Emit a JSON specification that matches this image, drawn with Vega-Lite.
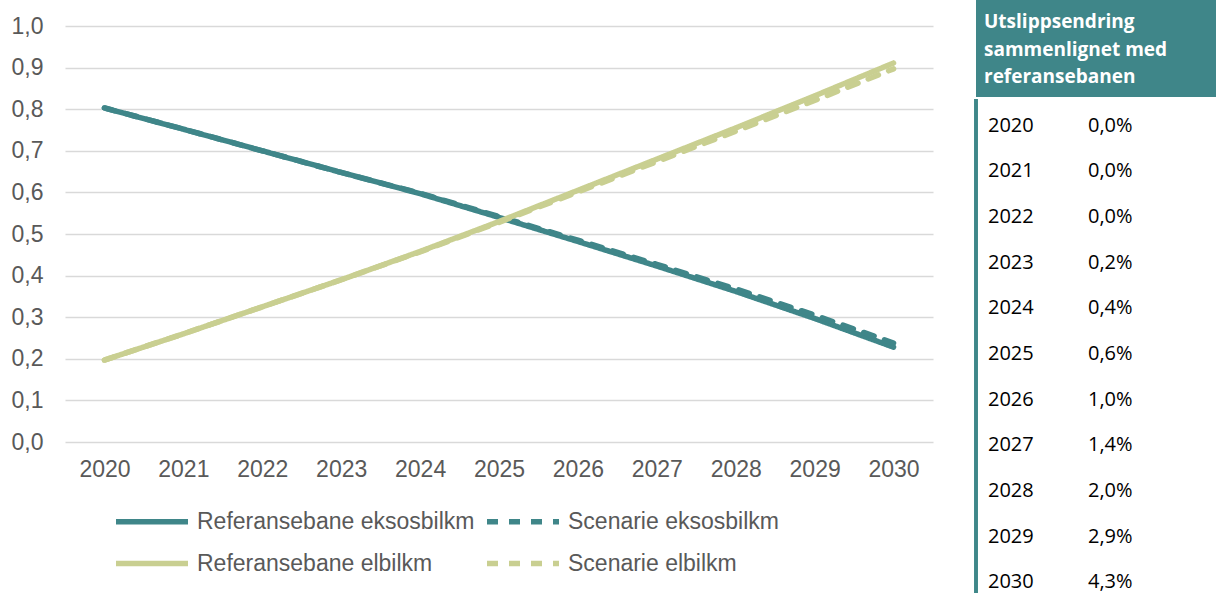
{
  "$schema": "https://vega.github.io/schema/vega-lite/v6.json",
  "padding": {"left": 11, "top": 0, "right": 0, "bottom": 0},
  "spacing": 41,
  "config": {"view": {"stroke": null}, "font": "Liberation Sans"},
  "datasets": {
    "linjer": [
      {"aar": "2020", "serie": "Referansebane eksosbilkm", "verdi": 0.803},
      {"aar": "2021", "serie": "Referansebane eksosbilkm", "verdi": 0.752},
      {"aar": "2022", "serie": "Referansebane eksosbilkm", "verdi": 0.700},
      {"aar": "2023", "serie": "Referansebane eksosbilkm", "verdi": 0.648},
      {"aar": "2024", "serie": "Referansebane eksosbilkm", "verdi": 0.597},
      {"aar": "2025", "serie": "Referansebane eksosbilkm", "verdi": 0.540},
      {"aar": "2026", "serie": "Referansebane eksosbilkm", "verdi": 0.482},
      {"aar": "2027", "serie": "Referansebane eksosbilkm", "verdi": 0.423},
      {"aar": "2028", "serie": "Referansebane eksosbilkm", "verdi": 0.362},
      {"aar": "2029", "serie": "Referansebane eksosbilkm", "verdi": 0.297},
      {"aar": "2030", "serie": "Referansebane eksosbilkm", "verdi": 0.228},
      {"aar": "2020", "serie": "Scenarie eksosbilkm", "verdi": 0.803},
      {"aar": "2021", "serie": "Scenarie eksosbilkm", "verdi": 0.752},
      {"aar": "2022", "serie": "Scenarie eksosbilkm", "verdi": 0.700},
      {"aar": "2023", "serie": "Scenarie eksosbilkm", "verdi": 0.648},
      {"aar": "2024", "serie": "Scenarie eksosbilkm", "verdi": 0.598},
      {"aar": "2025", "serie": "Scenarie eksosbilkm", "verdi": 0.542},
      {"aar": "2026", "serie": "Scenarie eksosbilkm", "verdi": 0.485},
      {"aar": "2027", "serie": "Scenarie eksosbilkm", "verdi": 0.427},
      {"aar": "2028", "serie": "Scenarie eksosbilkm", "verdi": 0.368},
      {"aar": "2029", "serie": "Scenarie eksosbilkm", "verdi": 0.305},
      {"aar": "2030", "serie": "Scenarie eksosbilkm", "verdi": 0.238},
      {"aar": "2020", "serie": "Referansebane elbilkm", "verdi": 0.197},
      {"aar": "2021", "serie": "Referansebane elbilkm", "verdi": 0.260},
      {"aar": "2022", "serie": "Referansebane elbilkm", "verdi": 0.325},
      {"aar": "2023", "serie": "Referansebane elbilkm", "verdi": 0.390},
      {"aar": "2024", "serie": "Referansebane elbilkm", "verdi": 0.458},
      {"aar": "2025", "serie": "Referansebane elbilkm", "verdi": 0.530},
      {"aar": "2026", "serie": "Referansebane elbilkm", "verdi": 0.605},
      {"aar": "2027", "serie": "Referansebane elbilkm", "verdi": 0.680},
      {"aar": "2028", "serie": "Referansebane elbilkm", "verdi": 0.755},
      {"aar": "2029", "serie": "Referansebane elbilkm", "verdi": 0.832},
      {"aar": "2030", "serie": "Referansebane elbilkm", "verdi": 0.911},
      {"aar": "2020", "serie": "Scenarie elbilkm", "verdi": 0.197},
      {"aar": "2021", "serie": "Scenarie elbilkm", "verdi": 0.260},
      {"aar": "2022", "serie": "Scenarie elbilkm", "verdi": 0.325},
      {"aar": "2023", "serie": "Scenarie elbilkm", "verdi": 0.390},
      {"aar": "2024", "serie": "Scenarie elbilkm", "verdi": 0.457},
      {"aar": "2025", "serie": "Scenarie elbilkm", "verdi": 0.528},
      {"aar": "2026", "serie": "Scenarie elbilkm", "verdi": 0.601},
      {"aar": "2027", "serie": "Scenarie elbilkm", "verdi": 0.674},
      {"aar": "2028", "serie": "Scenarie elbilkm", "verdi": 0.747},
      {"aar": "2029", "serie": "Scenarie elbilkm", "verdi": 0.821},
      {"aar": "2030", "serie": "Scenarie elbilkm", "verdi": 0.897}
    ],
    "overskrift": [
      {"linje": 1, "tekst": "Utslippsendring"},
      {"linje": 2, "tekst": "sammenlignet med"},
      {"linje": 3, "tekst": "referansebanen"}
    ],
    "tabell": [
      {"aar": "2020", "endring": "0,0%"},
      {"aar": "2021", "endring": "0,0%"},
      {"aar": "2022", "endring": "0,0%"},
      {"aar": "2023", "endring": "0,2%"},
      {"aar": "2024", "endring": "0,4%"},
      {"aar": "2025", "endring": "0,6%"},
      {"aar": "2026", "endring": "1,0%"},
      {"aar": "2027", "endring": "1,4%"},
      {"aar": "2028", "endring": "2,0%"},
      {"aar": "2029", "endring": "2,9%"},
      {"aar": "2030", "endring": "4,3%"}
    ]
  },
  "hconcat": [
    {
      "width": 868,
      "height": 442,
      "data": {"name": "linjer"},
      "mark": {"type": "line", "strokeWidth": 5.5, "strokeCap": "round", "strokeJoin": "round"},
      "encoding": {
        "x": {
          "field": "aar", "type": "ordinal",
          "scale": {"type": "point", "padding": 0.5},
          "axis": {"title": null, "labelAngle": 0, "ticks": false, "domain": false, "grid": false,
                   "labelFontSize": 23, "labelColor": "#595959", "labelPadding": 16}
        },
        "y": {
          "field": "verdi", "type": "quantitative",
          "scale": {"domain": [0, 1.0625], "nice": false},
          "axis": {"title": null, "values": [0, 0.1, 0.2, 0.3, 0.4, 0.5, 0.6, 0.7, 0.8, 0.9, 1.0],
                   "labelExpr": "replace(format(datum.value, '.1f'), '.', ',')",
                   "ticks": false, "domain": false, "gridColor": "#D9D9D9", "gridWidth": 1.5,
                   "labelFontSize": 23, "labelColor": "#595959", "labelPadding": 22}
        },
        "color": {
          "field": "serie", "type": "nominal",
          "scale": {"domain": ["Referansebane eksosbilkm", "Scenarie eksosbilkm", "Referansebane elbilkm", "Scenarie elbilkm"],
                    "range": ["#3F8689", "#3F8689", "#C9CF91", "#C9CF91"]},
          "legend": {"title": null, "orient": "none", "legendX": 48, "legendY": 510, "columns": 2,
                     "values": ["Referansebane eksosbilkm", "Referansebane elbilkm", "Scenarie eksosbilkm", "Scenarie elbilkm"],
                     "symbolType": "stroke", "symbolSize": 5184, "symbolStrokeWidth": 5.5, "clipHeight": 23,
                     "labelFontSize": 23, "labelColor": "#595959", "labelOffset": 6,
                     "rowPadding": 18, "columnPadding": 9, "labelLimit": 400}
        },
        "strokeDash": {
          "field": "serie", "type": "nominal",
          "scale": {"domain": ["Referansebane eksosbilkm", "Scenarie eksosbilkm", "Referansebane elbilkm", "Scenarie elbilkm"],
                    "range": [[1, 0], [11, 11], [1, 0], [11, 11]]},
          "legend": {"title": null, "orient": "none", "legendX": 48, "legendY": 510, "columns": 2,
                     "values": ["Referansebane eksosbilkm", "Referansebane elbilkm", "Scenarie eksosbilkm", "Scenarie elbilkm"],
                     "symbolType": "stroke", "symbolSize": 5184, "symbolStrokeWidth": 5.5, "clipHeight": 23,
                     "labelFontSize": 23, "labelColor": "#595959", "labelOffset": 6,
                     "rowPadding": 18, "columnPadding": 9, "labelLimit": 400}
        }
      }
    },
    {
      "spacing": 0,
      "vconcat": [
        {
          "width": 242,
          "height": 97,
          "view": {"fill": "#3F8689", "stroke": null},
          "data": {"name": "overskrift"},
          "mark": {"type": "text", "align": "left", "baseline": "middle", "font": "Open Sans",
                   "fontWeight": "bold", "fontSize": 19, "color": "#FFFFFF", "dy": 1},
          "encoding": {
            "x": {"datum": "tekst", "type": "nominal", "scale": {"type": "point", "domain": ["tekst"], "range": [8, 8], "padding": 0}, "axis": null},
            "y": {"field": "linje", "type": "ordinal", "scale": {"type": "point", "padding": 0.78}, "axis": null},
            "text": {"field": "tekst"}
          }
        },
        {
          "width": 242,
          "height": 496,
          "data": {"name": "tabell"},
          "resolve": {"scale": {"x": "independent"}},
          "layer": [
            {
              "mark": {"type": "rule", "color": "#3F8689", "strokeWidth": 2.5},
              "encoding": {
                "x": {"datum": "kant", "type": "nominal", "scale": {"type": "point", "domain": ["kant"], "range": [0, 0], "padding": 0}, "axis": null}
              }
            },
            {
              "transform": [{"fold": ["aar", "endring"], "as": ["kol", "verdi"]}],
              "mark": {"type": "text", "align": "left", "baseline": "middle", "font": "Open Sans", "fontSize": 20, "color": "#000000"},
              "encoding": {
                "x": {"field": "kol", "type": "nominal", "scale": {"type": "point", "domain": ["aar", "endring"], "range": [12, 112], "padding": 0}, "axis": null},
                "y": {"field": "aar", "type": "ordinal", "scale": {"type": "point", "range": [4, 506], "padding": 0.5}, "axis": null},
                "text": {"field": "verdi"}
              }
            }
          ]
        }
      ]
    }
  ]
}
